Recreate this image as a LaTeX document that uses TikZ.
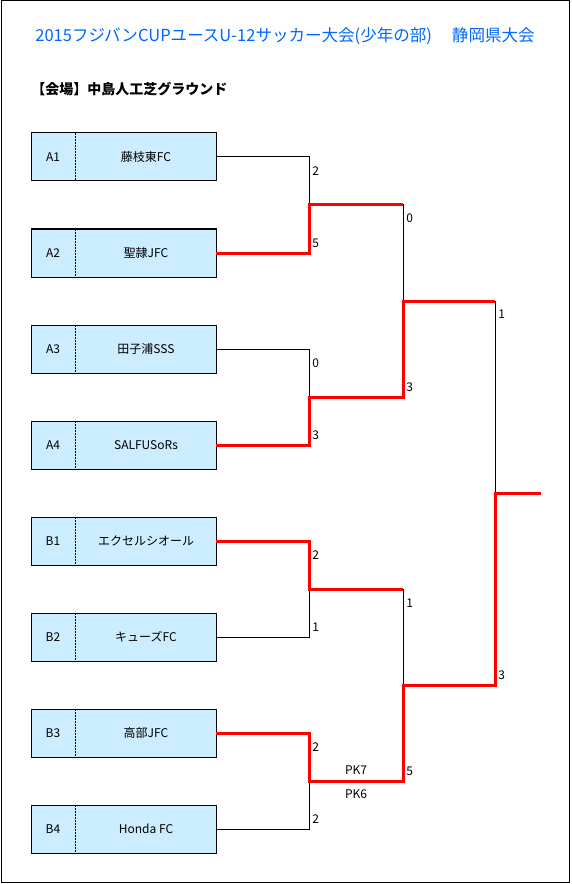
\documentclass[tikz,border=0pt]{standalone}
\usepackage{fontspec}
\setmainfont{Noto Sans CJK JP}
\usetikzlibrary{positioning}

\definecolor{boxblue}{RGB}{204,236,255}
\definecolor{titleblue}{RGB}{0,102,255}
\definecolor{winred}{RGB}{255,0,0}

\begin{document}
\begin{tikzpicture}[x=0.75pt, y=-0.75pt, font=\fontsize{9pt}{11pt}\selectfont,
  teambox/.style={draw, fill=boxblue, line width=0.75pt, minimum width=138.75pt,
    minimum height=36pt, inner sep=0pt, outer sep=0pt},
  divider/.style={line width=0.75pt, dash pattern=on 1.5pt off 0.75pt},
  bracket/.style={line width=0.75pt},
  winner/.style={line width=2.25pt, draw=winred},
  score/.style={anchor=west, inner sep=0pt}]

  \useasboundingbox (0,0) rectangle (571,884);

  % Outer frame
  \draw[line width=0.75pt] (1,1) rectangle (569,882);

  % Title and venue
  \node[text=titleblue, font=\fontsize{12.4pt}{14pt}\selectfont] (title) at (285,36)
    {2015フジバンCUPユースU-12サッカー大会(少年の部)\hspace{15pt}静岡県大会};
  \node[anchor=west, inner sep=0pt, font=\fontsize{10.5pt}{12pt}\selectfont\bfseries] (venue) at (31,89)
    {【会場】中島人工芝グラウンド};

  % Team boxes
  \node[teambox] (a1) at (123.5,157) {};
  \node[teambox] (a2) at (123.5,253) {};
  \node[teambox] (a3) at (123.5,349) {};
  \node[teambox] (a4) at (123.5,445) {};
  \node[teambox] (b1) at (123.5,541) {};
  \node[teambox] (b2) at (123.5,637) {};
  \node[teambox] (b3) at (123.5,733) {};
  \node[teambox] (b4) at (123.5,829) {};

  % Dotted dividers
  \draw[divider] ([xshift=33pt]a1.north west) -- ([xshift=33pt]a1.south west);
  \draw[divider] ([xshift=33pt]a2.north west) -- ([xshift=33pt]a2.south west);
  \draw[divider] ([xshift=33pt]a3.north west) -- ([xshift=33pt]a3.south west);
  \draw[divider] ([xshift=33pt]a4.north west) -- ([xshift=33pt]a4.south west);
  \draw[divider] ([xshift=33pt]b1.north west) -- ([xshift=33pt]b1.south west);
  \draw[divider] ([xshift=33pt]b2.north west) -- ([xshift=33pt]b2.south west);
  \draw[divider] ([xshift=33pt]b3.north west) -- ([xshift=33pt]b3.south west);
  \draw[divider] ([xshift=33pt]b4.north west) -- ([xshift=33pt]b4.south west);

  % Seeds
  \node (s-a1) at (53,157) {A1};
  \node (s-a2) at (53,253) {A2};
  \node (s-a3) at (53,349) {A3};
  \node (s-a4) at (53,445) {A4};
  \node (s-b1) at (53,541) {B1};
  \node (s-b2) at (53,637) {B2};
  \node (s-b3) at (53,733) {B3};
  \node (s-b4) at (53,829) {B4};

  % Team names
  \node (t-a1) at (146,157) {藤枝東FC};
  \node (t-a2) at (146,253) {聖隷JFC};
  \node (t-a3) at (146,349) {田子浦SSS};
  \node (t-a4) at (146,445) {SALFUSoRs};
  \node (t-b1) at (146,541) {エクセルシオール};
  \node (t-b2) at (146,637) {キューズFC};
  \node (t-b3) at (146,733) {高部JFC};
  \node (t-b4) at (146,829) {Honda FC};

  % Match points
  \coordinate (m1) at (309,205);
  \coordinate (m2) at (309,397);
  \coordinate (m3) at (309,589);
  \coordinate (m4) at (309,781);
  \coordinate (m5) at (403,301);
  \coordinate (m6) at (403,685);
  \coordinate (m7) at (495,493);
  \coordinate (champ) at (541,493);

  % Bracket lines
  \draw[bracket] (a1.east) -| (m1);
  \draw[bracket] (a2.east) -| (m1);
  \draw[bracket] (a3.east) -| (m2);
  \draw[bracket] (a4.east) -| (m2);
  \draw[bracket] (b1.east) -| (m3);
  \draw[bracket] (b2.east) -| (m3);
  \draw[bracket] (b3.east) -| (m4);
  \draw[bracket] (b4.east) -| (m4);
  \draw[bracket] (m1) -| (m5);
  \draw[bracket] (m2) -| (m5);
  \draw[bracket] (m3) -| (m6);
  \draw[bracket] (m4) -| (m6);
  \draw[bracket] (m5) -| (m7);
  \draw[bracket] (m6) -| (m7);

  % Winning paths
  \draw[winner] (a2.east) -| (m1) -- (m1 -| m5);
  \draw[winner] (a4.east) -| (m2) -| (m5) -- (m5 -| m7);
  \draw[winner] (b1.east) -| (m3) -- (m3 -| m6);
  \draw[winner] (b3.east) -| (m4) -| (m6) -| (m7) -- (champ);

  % Scores, first round
  \node[score] (r1-a1) at (312,171) {2};
  \node[score] (r1-a2) at (312,243) {5};
  \node[score] (r1-a3) at (312,363) {0};
  \node[score] (r1-a4) at (312,435) {3};
  \node[score] (r1-b1) at (312,555) {2};
  \node[score] (r1-b2) at (312,627) {1};
  \node[score] (r1-b3) at (312,747) {2};
  \node[score] (r1-b4) at (312,819) {2};

  % Penalty kicks
  \node (pk-b3) at (356,770) {PK7};
  \node (pk-b4) at (356,794) {PK6};

  % Scores, second round
  \node[score] (r2-a1) at (406,218) {0};
  \node[score] (r2-a2) at (406,387) {3};
  \node[score] (r2-b1) at (406,603) {1};
  \node[score] (r2-b2) at (406,771) {5};

  % Scores, third round
  \node[score] (r3-a) at (498,314) {1};
  \node[score] (r3-b) at (498,675) {3};

\end{tikzpicture}
\end{document}
